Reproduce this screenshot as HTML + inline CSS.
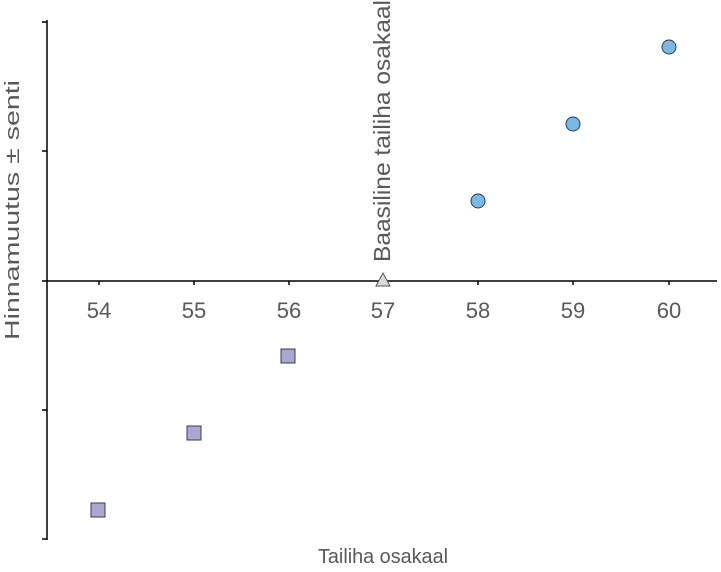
<!DOCTYPE html>
<html><head><style>body{margin:0;background:#fff}</style></head><body>
<svg width="721" height="567" xmlns="http://www.w3.org/2000/svg" font-family="Liberation Sans, sans-serif">
<rect width="721" height="567" fill="#fff"/>
<g stroke="#000" stroke-width="1.5">
<line x1="47" y1="20" x2="47" y2="540"/>
<line x1="47" y1="281" x2="717" y2="281"/>
<line x1="42" y1="22" x2="47" y2="22"/>
<line x1="42" y1="151" x2="47" y2="151"/>
<line x1="42" y1="281" x2="47" y2="281"/>
<line x1="42" y1="410" x2="47" y2="410"/>
<line x1="42" y1="539" x2="47" y2="539"/>
<line x1="99" y1="281" x2="99" y2="285"/>
<line x1="194" y1="281" x2="194" y2="285"/>
<line x1="289" y1="281" x2="289" y2="285"/>
<line x1="383" y1="281" x2="383" y2="285"/>
<line x1="478" y1="281" x2="478" y2="285"/>
<line x1="573" y1="281" x2="573" y2="285"/>
<line x1="669" y1="281" x2="669" y2="285"/>
</g>
<g fill="#595959" font-size="22" text-anchor="middle">
<text x="99" y="318">54</text><text x="194" y="318">55</text><text x="289" y="318">56</text><text x="383" y="318">57</text><text x="478" y="318">58</text><text x="573" y="318">59</text><text x="669" y="318">60</text>
</g>
<text x="383" y="563" fill="#595959" font-size="20" text-anchor="middle" textLength="130" lengthAdjust="spacingAndGlyphs">Tailiha osakaal</text>
<text transform="translate(19,210) rotate(-90)" fill="#595959" font-size="20" text-anchor="middle" textLength="260" lengthAdjust="spacingAndGlyphs">Hinnamuutus ± senti</text>
<text transform="translate(390,262) rotate(-90)" fill="#595959" font-size="23" textLength="262" lengthAdjust="spacingAndGlyphs">Baasiline tailiha osakaal</text>
<g fill="#7ab8e6" stroke="#2b3a55" stroke-width="1">
<circle cx="478" cy="201" r="7"/><circle cx="573" cy="124" r="7"/><circle cx="669" cy="47" r="7"/>
</g>
<g fill="#a9a8d0" stroke="#3a3a55" stroke-width="1">
<rect x="281" y="349" width="14" height="14"/><rect x="187" y="426" width="14" height="14"/><rect x="91" y="503" width="14" height="14"/>
</g>
<polygon points="383,273 376,286 390,286" fill="#d9d9e0" stroke="#555" stroke-width="1"/>
</svg>
</body></html>
